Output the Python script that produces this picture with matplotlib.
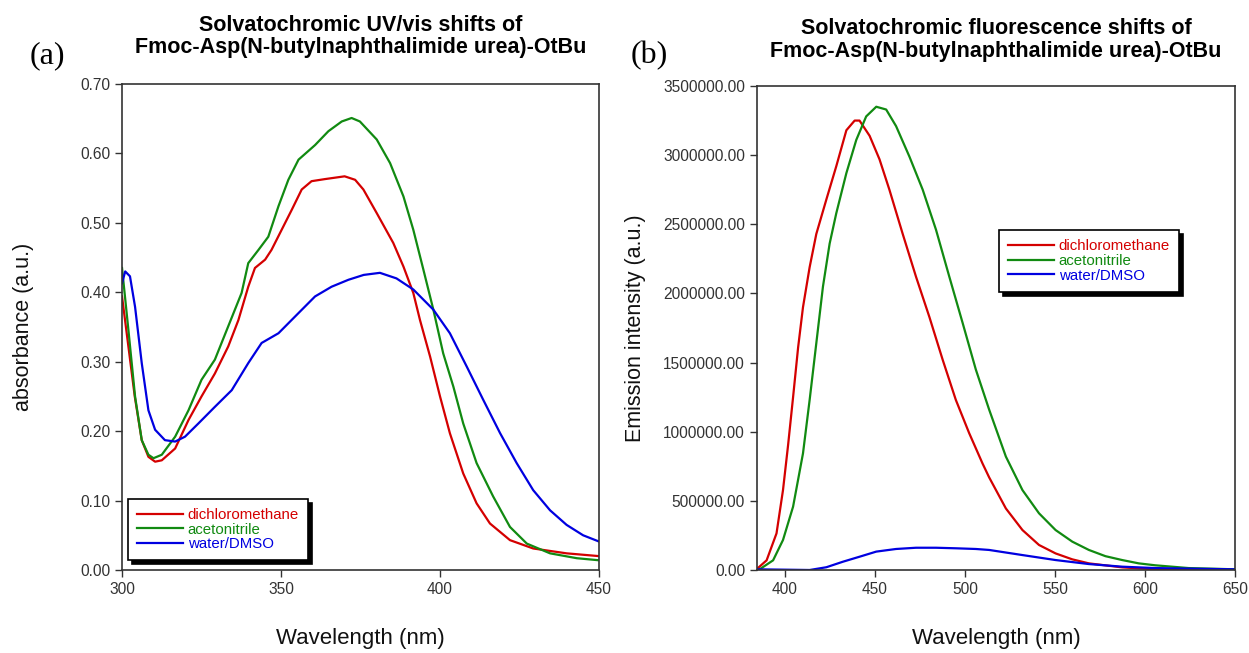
import matplotlib
matplotlib.use("Agg")
import matplotlib.pyplot as plt

plt.rcParams['font.family'] = ['Liberation Sans', 'DejaVu Sans']

# --- UV/vis data (wavelength nm, absorbance a.u.) ---
uv_dcm_wl = [300, 304, 306.2, 308.3, 310.4, 312.5, 316.7, 320.9, 325, 329.2, 333.4, 336.6,
             339.7, 341.8, 345, 347, 350.2, 353.4, 356.5, 359.6, 363.8, 370, 373.3, 375.9,
             380.1, 385.3, 388.5, 391.6, 393.7, 396.9, 400, 403.1, 407.3, 411.5, 415.7,
             422, 429.3, 439.8, 450]
uv_dcm_abs = [0.394, 0.25, 0.187, 0.163, 0.156, 0.158, 0.175, 0.216, 0.25, 0.283, 0.322, 0.36,
              0.408, 0.435, 0.447, 0.461, 0.49, 0.519, 0.548, 0.56, 0.563, 0.567, 0.562, 0.548,
              0.514, 0.471, 0.437, 0.399, 0.36, 0.307, 0.25, 0.197, 0.139, 0.096, 0.067,
              0.043, 0.031, 0.024, 0.02]

uv_acn_wl = [300, 302, 304.1, 306.2, 308.3, 309.9, 312.5, 316.7, 320.9, 325, 329.2, 333.4,
             337.6, 339.7, 342.9, 346, 349.2, 352.3, 355.5, 360.7, 364.9, 369.1, 372.2,
             374.8, 380.1, 384.3, 388.5, 391.6, 394.8, 397.9, 401, 404.2, 407.3, 411.5,
             416.7, 422, 427.3, 434.6, 443, 450]
uv_acn_abs = [0.435, 0.346, 0.25, 0.187, 0.166, 0.161, 0.166, 0.192, 0.23, 0.274, 0.303, 0.351,
              0.399, 0.442, 0.461, 0.48, 0.524, 0.562, 0.591, 0.612, 0.632, 0.646, 0.651,
              0.646, 0.62, 0.586, 0.538, 0.49, 0.432, 0.375, 0.312, 0.264, 0.211, 0.154,
              0.106, 0.062, 0.038, 0.024, 0.017, 0.014]

uv_wat_wl = [300, 301, 302.5, 304.1, 306.2, 308.3, 310.4, 313.5, 316.7, 319.8, 324, 329.2,
             334.5, 339.7, 343.9, 349.2, 354.4, 360.7, 365.9, 371.2, 376, 381.1, 386.3,
             391.6, 397.9, 403.1, 408.4, 413.6, 418.9, 424.1, 429.3, 434.6, 439.8, 445, 450]
uv_wat_abs = [0.413, 0.43, 0.423, 0.379, 0.298, 0.23, 0.202, 0.187, 0.185, 0.192, 0.211, 0.235,
              0.259, 0.298, 0.327, 0.341, 0.365, 0.394, 0.408, 0.418, 0.425, 0.428, 0.42,
              0.404, 0.375, 0.341, 0.293, 0.245, 0.197, 0.154, 0.115, 0.086, 0.065, 0.05, 0.041]

# --- fluorescence data (wavelength nm, emission intensity) ---
fl_dcm_wl = [384.7, 389.9, 395.4, 399, 401.8, 404.6, 407.4, 410.1, 413.8, 417.5, 423.1, 428.6,
             434.2, 438.8, 441.5, 447.1, 452.6, 458.1, 465.5, 472.9, 480.3, 487.7, 495,
             502.4, 509.8, 513.5, 522.8, 532, 541.2, 550.4, 559.7, 568.9, 587.4, 605.8, 650]
fl_dcm_int = [10000, 70000, 265000, 578000, 900000, 1250000, 1610000, 1900000, 2190000, 2430000,
              2680000, 2920000, 3180000, 3250000, 3250000, 3140000, 2970000, 2750000, 2430000,
              2120000, 1830000, 1520000, 1230000, 990000, 771000, 670000, 445000, 289000,
              181000, 120000, 77000, 48000, 19000, 5000, 0]

fl_acn_wl = [386, 393.5, 399, 404.6, 410.1, 413.8, 417.5, 421.2, 424.9, 428.6, 434.2, 439.7,
             445.2, 450.8, 456.3, 461.8, 469.2, 476.6, 484, 491.4, 498.7, 506.1, 513.5,
             522.8, 532, 541.2, 550.4, 559.7, 568.9, 578.1, 587.4, 596.6, 605.8, 624.3, 650]
fl_acn_int = [5000, 70000, 217000, 458000, 843000, 1230000, 1640000, 2050000, 2360000, 2580000,
              2870000, 3110000, 3280000, 3350000, 3330000, 3210000, 2990000, 2750000, 2460000,
              2120000, 1790000, 1450000, 1160000, 820000, 578000, 410000, 289000, 205000,
              145000, 100000, 72000, 48000, 34000, 14000, 5000]

fl_wat_wl = [384.7, 413.8, 423.1, 432.3, 441.5, 450.8, 461.8, 472.9, 484, 495, 506.1, 513.5,
             532, 550.4, 568.9, 587.4, 605.8, 624.3, 650]
fl_wat_int = [5000, 0, 20000, 60000, 96000, 133000, 152000, 161000, 161000, 157000, 152000,
              145000, 108000, 72000, 43000, 24000, 14000, 10000, 5000]

labels = ['dichloromethane', 'acetonitrile', 'water/DMSO']
colors = ['#d40000', '#118a11', '#0000e0']

fig = plt.figure(figsize=(12.49, 6.53), dpi=100)
ax1 = fig.add_axes([0.0977, 0.1271, 0.3819, 0.7443])
ax2 = fig.add_axes([0.606, 0.1271, 0.3827, 0.7412])

# panel (a)
ax1.plot(uv_dcm_wl, uv_dcm_abs, color=colors[0], lw=1.6, label=labels[0])
ax1.plot(uv_acn_wl, uv_acn_abs, color=colors[1], lw=1.6, label=labels[1])
ax1.plot(uv_wat_wl, uv_wat_abs, color=colors[2], lw=1.6, label=labels[2])
ax1.set_xlim(300, 450)
ax1.set_ylim(0, 0.70)
ax1.set_xticks([300, 350, 400, 450])
ax1.set_yticks([0, 0.1, 0.2, 0.3, 0.4, 0.5, 0.6, 0.7])
ax1.set_yticklabels(['%.2f' % v for v in ax1.get_yticks()])

# panel (b)
ax2.plot(fl_dcm_wl, fl_dcm_int, color=colors[0], lw=1.6, label=labels[0])
ax2.plot(fl_acn_wl, fl_acn_int, color=colors[1], lw=1.6, label=labels[1])
ax2.plot(fl_wat_wl, fl_wat_int, color=colors[2], lw=1.6, label=labels[2])
ax2.set_xlim(384.5, 650)
ax2.set_ylim(0, 3500000)
ax2.set_xticks([400, 450, 500, 550, 600, 650])
ax2.set_yticks([0, 500000, 1000000, 1500000, 2000000, 2500000, 3000000, 3500000])
ax2.set_yticklabels(['%.2f' % v for v in ax2.get_yticks()])

for ax in (ax1, ax2):
    for s in ax.spines.values():
        s.set_color('#333333')
        s.set_linewidth(1.2)
    ax.tick_params(direction='out', length=5, width=1, colors='#333333',
                   labelsize=11.2, labelcolor='#333333')

ax1.set_title('Solvatochromic UV/vis shifts of\nFmoc-Asp(N-butylnaphthalimide urea)-OtBu',
              fontsize=15.5, fontweight='bold', pad=22, linespacing=1.1)
ax2.set_title('Solvatochromic fluorescence shifts of\nFmoc-Asp(N-butylnaphthalimide urea)-OtBu',
              fontsize=15.5, fontweight='bold', pad=21, linespacing=1.1)

ax1.set_ylabel('absorbance (a.u.)', fontsize=15.5, color='#111111')
ax1.yaxis.set_label_coords(-0.185, 0.5)
ax1.set_xlabel('Wavelength (nm)', fontsize=16, color='#111111')
ax1.xaxis.set_label_coords(0.5, -0.12)

ax2.set_ylabel('Emission intensity (a.u.)', fontsize=15.5, color='#111111')
ax2.yaxis.set_label_coords(-0.232, 0.5)
ax2.set_xlabel('Wavelength (nm)', fontsize=16, color='#111111')
ax2.xaxis.set_label_coords(0.5, -0.12)

fig.text(0.038, 0.915, '(a)', fontsize=23, family='Liberation Serif', ha='center', va='center')
fig.text(0.52, 0.915, '(b)', fontsize=23, family='Liberation Serif', ha='center', va='center')

leg_kw = dict(fancybox=False, edgecolor='black', framealpha=1, fontsize=10.8,
              labelcolor='linecolor', handlelength=3.1, labelspacing=0.05,
              handletextpad=0.3, borderpad=0.6, borderaxespad=0,
              shadow={'color': 'black', 'alpha': 1, 'ox': 3, 'oy': -3})
leg1 = ax1.legend(loc='lower left', bbox_to_anchor=(0.012, 0.02), **leg_kw)
leg2 = ax2.legend(loc='upper left', bbox_to_anchor=(0.506, 0.702), **leg_kw)
for leg in (leg1, leg2):
    leg.get_frame().set_linewidth(1.2)

fig.savefig('out.png', dpi=100)
